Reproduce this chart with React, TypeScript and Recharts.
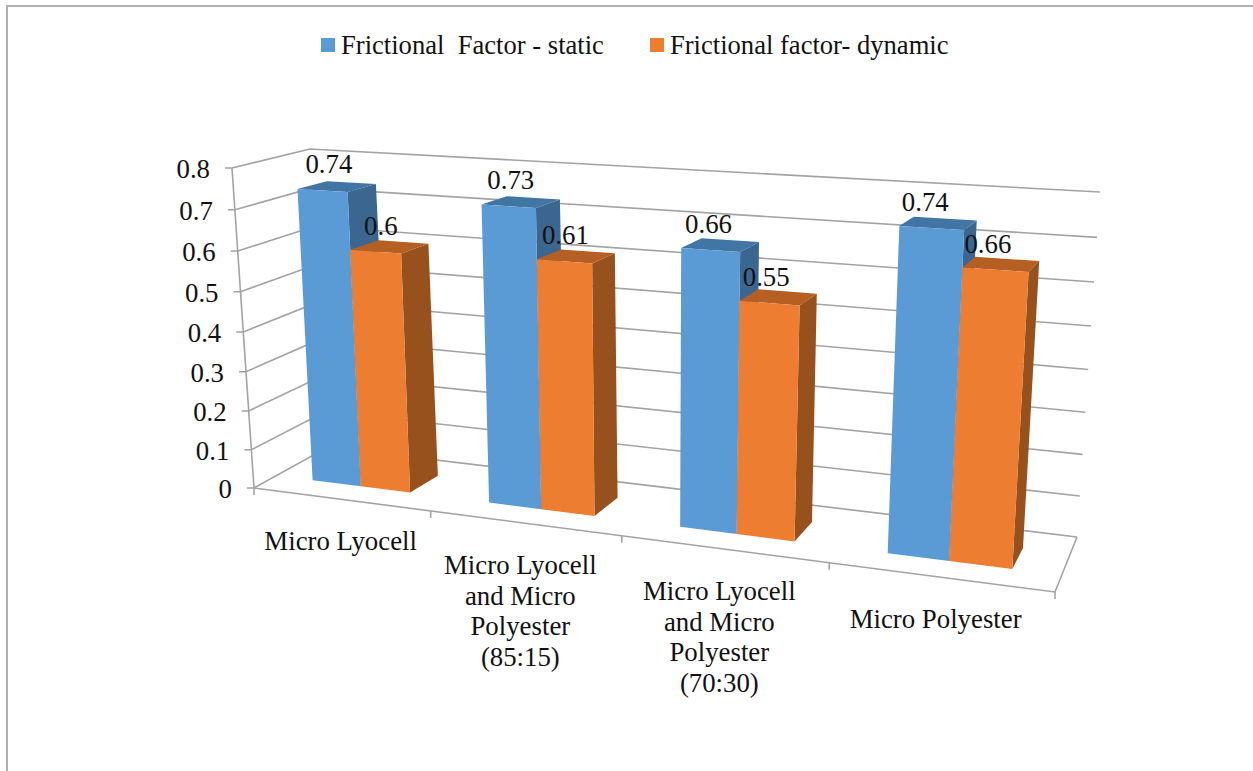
import { Bar, BarChart, CartesianGrid, LabelList, Legend, XAxis, YAxis } from "recharts";

const WIDTH = 1253;
const HEIGHT = 771;
const FONT = '"Liberation Serif", "Times New Roman", serif';

const CATEGORIES = [
  "Micro Lyocell",
  "Micro Lyocell\nand Micro\nPolyester\n(85:15)",
  "Micro Lyocell\nand Micro\nPolyester\n(70:30)",
  "Micro Polyester",
];
const STATIC_VALUES = [0.74, 0.73, 0.66, 0.74];
const DYNAMIC_VALUES = [0.6, 0.61, 0.55, 0.66];
const Y_TICKS = [0, 0.1, 0.2, 0.3, 0.4, 0.5, 0.6, 0.7, 0.8];

const STATIC_NAME = "Frictional  Factor - static";
const DYNAMIC_NAME = "Frictional factor- dynamic";

const tableData = CATEGORIES.map((name, i) => ({
  name,
  staticValue: STATIC_VALUES[i],
  dynamicValue: DYNAMIC_VALUES[i],
}));

const BLUE = { front: "#5B9BD5", top: "#4175A3", side: "#3B6690" };
const ORANGE = { front: "#ED7D31", top: "#B55F23", side: "#96511D" };
const GRID = "#A3A3A3";

type Pt = [number, number];
type Quad = { bl: Pt; br: Pt; tr: Pt; tl: Pt };

// unit square -> quad (standard projective mapping)
function makeHomography({ bl, br, tr, tl }: Quad) {
  const [x0, y0] = bl, [x1, y1] = br, [x2, y2] = tr, [x3, y3] = tl;
  const dx1 = x1 - x2, dx2 = x3 - x2, sx = x0 - x1 + x2 - x3;
  const dy1 = y1 - y2, dy2 = y3 - y2, sy = y0 - y1 + y2 - y3;
  const det = dx1 * dy2 - dx2 * dy1;
  const g = (sx * dy2 - dx2 * sy) / det;
  const h = (dx1 * sy - sx * dy1) / det;
  const a = x1 - x0 + g * x1, b = x3 - x0 + h * x3;
  const d = y1 - y0 + g * y1, e = y3 - y0 + h * y3;
  return (u: number, v: number): Pt => {
    const w = g * u + h * v + 1;
    return [(a * u + b * v + x0) / w, (d * u + e * v + y0) / w];
  };
}

// the planes of the 3D box: axis front edge, back wall, front and back of the columns
const axisPlane = makeHomography({ bl: [254, 488], br: [1055, 592], tr: [1078, 218], tl: [232, 168] });
const wallPlane = makeHomography({ bl: [328, 447], br: [1077, 537], tr: [1100, 192], tl: [310, 149] });
const barFront = makeHomography({ bl: [276, 475.5], br: [1063, 575.5], tr: [1086, 208.5], tl: [258, 162] });
const barBack = makeHomography({ bl: [307, 459.5], br: [1072, 554], tr: [1095, 199.5], tl: [288, 155] });

const toPoints = (pts: Pt[]) => pts.map((p) => p.join(",")).join(" ");

function GridLine({ y1 }: any) {
  const v = 1 - y1 / HEIGHT;
  const front = axisPlane(0, v);
  const wall = toPoints([[front[0] - 7, front[1]], front, wallPlane(0, v), wallPlane(1, v)]);
  if (v > 0.001) {
    return <polyline points={wall} fill="none" stroke={GRID} strokeWidth={1.6} />;
  }
  // the baseline also closes the floor and carries the category ticks
  const ticks = CATEGORIES.map((_, i) => axisPlane((i + 1) / CATEGORIES.length, 0));
  return (
    <g fill="none" stroke={GRID} strokeWidth={1.6}>
      <polyline points={wall} />
      <polyline points={toPoints([wallPlane(1, 0), axisPlane(1, 0), axisPlane(0, 0), axisPlane(0, 1)])} />
      {[axisPlane(0, 0), ...ticks].map((p, i) => (
        <line key={i} x1={p[0]} y1={p[1]} x2={p[0]} y2={p[1] + 7} />
      ))}
    </g>
  );
}

function Column({ x, y, width, height, colors }: any) {
  const u0 = x / WIDTH;
  const u1 = (x + width) / WIDTH;
  const vTop = 1 - y / HEIGHT;
  const vBase = 1 - (y + height) / HEIGHT;
  return (
    <g>
      <polygon
        fill={colors.side}
        points={toPoints([barFront(u1, vBase), barFront(u1, vTop), barBack(u1, vTop), barBack(u1, vBase)])}
      />
      <polygon
        fill={colors.top}
        points={toPoints([barFront(u0, vTop), barFront(u1, vTop), barBack(u1, vTop), barBack(u0, vTop)])}
      />
      <polygon
        fill={colors.front}
        points={toPoints([barFront(u0, vBase), barFront(u1, vBase), barFront(u1, vTop), barFront(u0, vTop)])}
      />
    </g>
  );
}

function ValueLabel({ x, y, width, value }: any) {
  const u = (x + width / 2) / WIDTH;
  const [px, py] = barFront(u, 1 - y / HEIGHT);
  return (
    <text x={px + 8 - 17 * u} y={py - 26} textAnchor="middle" dominantBaseline="central" fontFamily={FONT} fontSize={26.8} fill="#111">
      {value}
    </text>
  );
}

function ValueTick({ y, payload }: any) {
  const [px, py] = axisPlane(0, 1 - y / HEIGHT);
  return (
    <text x={px - 22} y={py + 1} textAnchor="end" dominantBaseline="central" fontFamily={FONT} fontSize={26.8} fill="#111">
      {payload.value}
    </text>
  );
}

function CategoryTick({ x, index, payload }: any) {
  const [px, py] = axisPlane(x / WIDTH, 0);
  // the first label sits a little closer to its band centre
  const dx = index === 0 ? 0 : -4;
  return (
    <text textAnchor="middle" fontFamily={FONT} fontSize={26.8} fill="#111">
      {String(payload.value).split("\n").map((line, i) => (
        <tspan key={i} x={px + dx} y={py + 51 + i * 30.6}>{line}</tspan>
      ))}
    </text>
  );
}

function LegendRow({ payload }: any) {
  return (
    <div style={{ display: "flex", fontFamily: FONT, fontSize: 26.6, color: "#111", lineHeight: "30px", whiteSpace: "pre" }}>
      {payload.map((entry: any, i: number) => (
        <div key={i} style={{ display: "flex", alignItems: "center", marginRight: 46 }}>
          <span style={{ width: 14, height: 14, background: entry.color, marginRight: 6 }} />
          {entry.value}
        </div>
      ))}
    </div>
  );
}

export default function App() {
  return (
    <div style={{ position: "absolute", left: 0, top: 0, width: WIDTH, height: HEIGHT, background: "#fff", overflow: "hidden" }}>
      <div style={{ position: "absolute", left: 6, top: 5, right: 0, bottom: 0, borderTop: "2px solid #B0B0B0", borderLeft: "2px solid #B0B0B0" }} />
      <BarChart
        width={WIDTH}
        height={HEIGHT}
        data={tableData}
        margin={{ top: 0, right: 0, bottom: -1, left: -1 }}
        barCategoryGap="21.75%"
        barGap={0}
      >
        <CartesianGrid horizontal={GridLine} vertical={false} />
        <XAxis dataKey="name" height={1} interval={0} axisLine={false} tickLine={false} tick={CategoryTick} />
        <YAxis width={1} domain={[0, 0.8]} ticks={Y_TICKS} interval={0} axisLine={false} tickLine={false} tick={ValueTick} />
        <Legend
          layout="horizontal"
          verticalAlign="middle"
          align="center"
          wrapperStyle={{ left: 321, top: 30, width: 720 }}
          content={LegendRow}
        />
        <Bar
          dataKey="staticValue"
          name={STATIC_NAME}
          fill={BLUE.front}
          isAnimationActive={false}
          shape={(props: any) => <Column {...props} colors={BLUE} />}
        >
          <LabelList dataKey="staticValue" content={ValueLabel} />
        </Bar>
        <Bar
          dataKey="dynamicValue"
          name={DYNAMIC_NAME}
          fill={ORANGE.front}
          isAnimationActive={false}
          shape={(props: any) => <Column {...props} colors={ORANGE} />}
        >
          <LabelList dataKey="dynamicValue" content={ValueLabel} />
        </Bar>
      </BarChart>
    </div>
  );
}
